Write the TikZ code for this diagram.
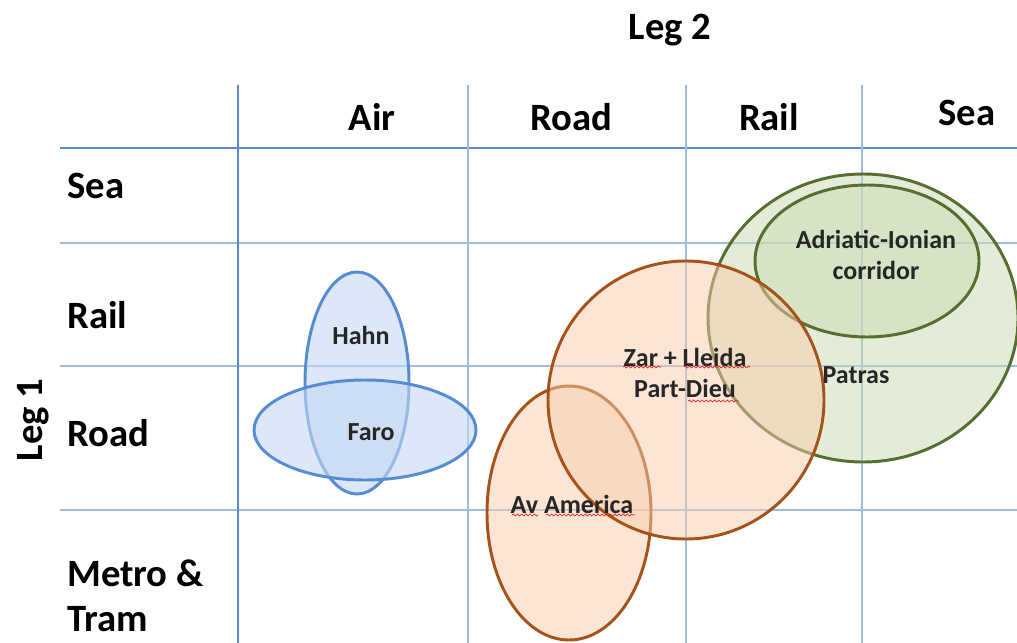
\documentclass[tikz,border=0pt]{standalone}
\usepackage{fontspec}
\setmainfont{Carlito}
\usetikzlibrary{decorations.pathmorphing}
\definecolor{gridmain}{RGB}{92,138,206}
\definecolor{gridlight}{RGB}{160,186,226}
\definecolor{airline}{RGB}{86,140,212}
\definecolor{airfill}{RGB}{196,216,242}
\definecolor{roadline}{RGB}{164,84,26}
\definecolor{roadfill}{RGB}{249,204,172}
\definecolor{sealine}{RGB}{86,110,48}
\definecolor{seafill}{RGB}{202,218,178}
\definecolor{spell}{RGB}{220,40,40}

\begin{document}
\begin{tikzpicture}[x=0.025cm,y=-0.025cm,
                    head/.style={font=\bfseries\fontsize{27.5}{32}\selectfont},
                    rowhead/.style={head,anchor=west,align=left,inner sep=0pt},
                    lbl/.style={font=\bfseries\fontsize{18.5}{22}\selectfont,
                                text=black!85,align=center,inner sep=0pt},
                    gridline/.style={draw=gridlight,line width=0.8pt},
                    airset/.style={draw=airline,line width=2.1pt,fill=airfill,fill opacity=0.6},
                    roadset/.style={draw=roadline,line width=2.1pt,fill=roadfill,fill opacity=0.5},
                    seaset/.style={draw=sealine,line width=2.1pt,fill=seafill,fill opacity=0.5},
                    spellmark/.style={draw=spell,line width=0.5pt,
                                decorate,decoration={snake,segment length=3pt,amplitude=0.7pt}}]
\useasboundingbox (0,0) rectangle (1017,643);

% grid
\foreach \y in {243,366,510}
  \draw[gridline] (60,\y) -- (1017,\y);
\draw[draw=gridmain,line width=1.2pt] (60,148) -- (1017,148);
\draw[draw=gridmain,line width=1pt] (238,85) -- (238,643);
\foreach \x in {468,686,862}
  \draw[gridline] (\x,85) -- (\x,643);

% headings
\node[head] (leg2) at (670,30) {Leg 2};
\node[head,rotate=90] (leg1) at (33,420) {Leg 1};
\node[head] (air)   at (372,117) {Air};
\node[head] (road2) at (571,117) {Road};
\node[head] (rail2) at (769,117) {Rail};
\node[head] (sea2)  at (967,113) {Sea};
\node[rowhead] (sea1)   at (67,186) {Sea};
\node[rowhead] (rail1)  at (67,315) {Rail};
\node[rowhead] (road1)  at (67,433) {Road};
\node[rowhead] (metro1) at (67,596) {Metro \&\\Tram};

% sets
\path[seaset] (863,318) ellipse [x radius=155,y radius=144];
\path[seaset] (867,261) ellipse [x radius=112,y radius=76];
\path[roadset] (569,513) ellipse [x radius=82,y radius=127];
\path[roadset] (686,400) ellipse [x radius=138,y radius=139];
\path[airset] (357,383) ellipse [x radius=52,y radius=111];
\path[airset] (365,430) ellipse [x radius=111,y radius=50];

% labels
\node[lbl] (hahn)   at (361,335) {Hahn};
\node[lbl] (faro)   at (371,432) {Faro};
\node[lbl] (avam)   at (572,504) {Av America};
\node[lbl] (zar)    at (685,373) {Zar + Lleida\\Part-Dieu};
\node[lbl] (patras) at (856,375) {Patras};
\node[lbl] (adri)   at (876,255) {Adriatic-Ionian\\corridor};

% spell check marks
\draw[spellmark] (623,367) -- (661,367);
\draw[spellmark] (684,367) -- (750,367);
\draw[spellmark] (688,401) -- (739,401);
\draw[spellmark] (512,515) -- (538,515);
\draw[spellmark] (546,515) -- (635,515);
\end{tikzpicture}
\end{document}
